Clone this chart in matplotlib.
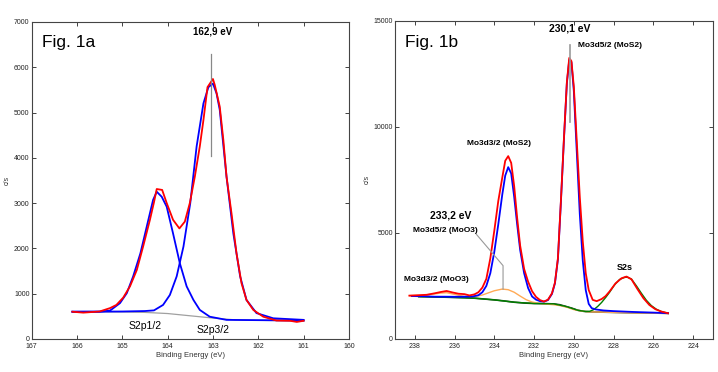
import matplotlib
matplotlib.use("Agg")
import matplotlib.pyplot as plt

plt.rcParams['font.family'] = ['Liberation Sans', 'DejaVu Sans']

# ---------------- Fig. 1a : S2p ----------------
s2p_env_E = [166.1, 165.86, 165.5, 165.27, 165.13, 164.98, 164.83, 164.68, 164.54, 164.39,
             164.3, 164.24, 164.12, 164.02, 163.88, 163.74, 163.62, 163.51, 163.4, 163.29,
             163.21, 163.12, 163.0, 162.96, 162.85, 162.77, 162.7, 162.59, 162.48, 162.37,
             162.26, 162.11, 161.89, 161.6, 161.3, 161.15, 161.0]
s2p_env_I = [600, 580, 605, 680, 750, 910, 1160, 1520, 2040, 2630,
             3020, 3310, 3290, 3000, 2630, 2440, 2590, 3000, 3580, 4250,
             4830, 5560, 5740, 5610, 5130, 4390, 3580, 2770, 1890, 1230,
             860, 640, 490, 405, 400, 375, 400]

s2p32_E = [166.1, 165.0, 164.5, 164.3, 164.1, 163.95, 163.8, 163.65, 163.5, 163.36,
           163.21, 163.1, 163.0, 162.92, 162.85, 162.7, 162.55, 162.4, 162.26, 162.04,
           161.67, 161.0]
s2p32_I = [600, 605, 615, 630, 750, 970, 1380, 2040, 3000, 4250,
           5200, 5560, 5640, 5420, 5060, 3580, 2330, 1380, 860, 570,
           455, 420]

s2p12_E = [166.1, 165.5, 165.27, 165.05, 164.9, 164.76, 164.6, 164.46, 164.32, 164.24,
           164.13, 164.02, 163.88, 163.73, 163.58, 163.43, 163.29, 163.07, 162.7, 161.0]
s2p12_I = [600, 600, 625, 790, 1010, 1380, 1890, 2480, 3070, 3250,
           3140, 2920, 2330, 1670, 1160, 860, 640, 490, 420, 405]

s2p_bg_E = [166.1, 165.0, 164.5, 164.0, 163.5, 163.0, 162.5, 162.0, 161.0]
s2p_bg_I = [600, 595, 585, 560, 510, 460, 420, 410, 400]

# ---------------- Fig. 1b : Mo3d ----------------
mo_env_E = [238.27, 237.8, 237.4, 237.0, 236.7, 236.4, 236.1, 235.8, 235.5, 235.25,
            235.0, 234.8, 234.6, 234.4, 234.2, 234.0, 233.8, 233.6, 233.45, 233.3,
            233.15, 233.0, 232.85, 232.7, 232.5, 232.3, 232.1, 231.9, 231.7, 231.5,
            231.3, 231.1, 230.95, 230.8, 230.65, 230.5, 230.35, 230.23, 230.12, 230.0,
            229.85, 229.7, 229.55, 229.4, 229.25, 229.05, 228.85, 228.6, 228.4, 228.2,
            227.9, 227.6, 227.35, 227.1, 226.8, 226.5, 226.2, 225.9, 225.6, 225.26]
mo_env_I = [2040, 2060, 2080, 2150, 2210, 2260, 2190, 2130, 2110, 2050,
            2100, 2200, 2420, 2830, 3800, 5100, 6500, 7600, 8400, 8620,
            8300, 7200, 5700, 4400, 3300, 2700, 2250, 1980, 1830, 1760,
            1850, 2150, 2650, 3800, 6500, 9400, 12100, 13250, 13100, 11900,
            9300, 6700, 4600, 3100, 2300, 1840, 1780, 1880, 2020, 2240,
            2620, 2860, 2940, 2810, 2350, 1920, 1600, 1400, 1290, 1210]

mos2_E = [238.15, 237.5, 237.0, 236.5, 236.0, 235.5, 235.1, 234.8, 234.6, 234.4,
          234.2, 234.0, 233.8, 233.6, 233.45, 233.3, 233.15, 233.0, 232.85, 232.7,
          232.5, 232.3, 232.1, 231.9, 231.7, 231.5, 231.3, 231.1, 230.95, 230.8,
          230.65, 230.5, 230.35, 230.23, 230.12, 230.0, 229.85, 229.7, 229.55, 229.4,
          229.25, 229.1, 228.9, 228.5, 228.0, 227.0, 226.0, 225.26]
mos2_I = [2020, 2010, 1990, 1990, 1985, 1990, 2000, 2060, 2200, 2500,
          3100, 4100, 5400, 6800, 7700, 8100, 7800, 6700, 5400, 4200,
          3100, 2400, 2000, 1850, 1780, 1760, 1830, 2120, 2620, 3750,
          6450, 9350, 12050, 13150, 13050, 11700, 8800, 5900, 3700, 2300,
          1650, 1450, 1390, 1340, 1310, 1270, 1240, 1210]

moo3_E = [238.27, 237.8, 237.4, 237.0, 236.7, 236.4, 236.1, 235.8, 235.5, 235.2,
          234.9, 234.6, 234.3, 234.0, 233.6, 233.3, 233.0, 232.7, 232.4, 232.1,
          231.8, 231.5, 231.0, 230.7, 230.3, 230.0, 229.6, 229.3, 228.0, 227.0,
          226.0, 225.26]
moo3_I = [2040, 2050, 2080, 2120, 2160, 2180, 2120, 2060, 2000, 1990,
          2010, 2070, 2170, 2270, 2350, 2320, 2200, 2020, 1850, 1740,
          1680, 1650, 1610, 1570, 1480, 1380, 1310, 1280, 1250, 1230,
          1215, 1200]

mo_bg_E = [237.8, 237.0, 236.0, 235.5, 235.0, 234.5, 234.0, 233.5, 233.0, 232.5,
           232.0, 231.5, 231.0, 230.7, 230.4, 230.1, 229.8, 229.5, 229.2, 228.5,
           227.5, 226.5, 225.26]
mo_bg_I = [1995, 1980, 1955, 1945, 1920, 1880, 1840, 1790, 1730, 1690,
           1670, 1665, 1650, 1610, 1530, 1450, 1350, 1300, 1280, 1260,
           1240, 1225, 1205]

s2s_E = [237.8, 237.0, 236.0, 235.0, 234.0, 233.0, 232.0, 231.0, 230.4, 229.8,
         229.4, 229.2, 229.0, 228.8, 228.6, 228.4, 228.2, 227.95, 227.7, 227.45,
         227.3, 227.1, 226.85, 226.6, 226.35, 226.1, 225.85, 225.6, 225.26]
s2s_I = [1995, 1980, 1955, 1920, 1840, 1730, 1670, 1650, 1530, 1350,
         1290, 1300, 1380, 1530, 1720, 1950, 2200, 2550, 2800, 2900,
         2910, 2820, 2500, 2150, 1820, 1570, 1400, 1290, 1210]

left_xticks = [167, 166, 165, 164, 163, 162, 161, 160]
left_yticks = [0, 1000, 2000, 3000, 4000, 5000, 6000, 7000]
right_xticks = [238, 236, 234, 232, 230, 228, 226, 224]
right_yticks = [0, 5000, 10000, 15000]

fig = plt.figure(figsize=(7.18, 3.72), dpi=100)
axL = fig.add_axes([0.044, 0.089, 0.442, 0.852])
axR = fig.add_axes([0.550, 0.089, 0.443, 0.855])

def style(ax):
    ax.tick_params(direction='in', length=3, width=0.6, top=True, right=True,
                   labelsize=5, colors='#222222')
    ax.tick_params(axis='x', pad=3)
    ax.tick_params(axis='y', pad=1.5)
    for s in ax.spines.values():
        s.set_linewidth(0.8)
        s.set_color('#444444')
    ax.set_xlabel('Binding Energy (eV)', fontsize=5.5, labelpad=1.5, color='#333333')
    ax.set_ylabel('c/s', fontsize=5, labelpad=2, color='#333333')

# ---- left
axL.plot(s2p_bg_E, s2p_bg_I, color='#a0a0a0', lw=0.9)
axL.plot(s2p12_E, s2p12_I, color='#0000ff', lw=1.3)
axL.plot(s2p32_E, s2p32_I, color='#0000ff', lw=1.3)
axL.plot(s2p_env_E, s2p_env_I, color='#ff0000', lw=1.3)
axL.set_xlim(167, 160)
axL.set_ylim(0, 7000)
axL.set_xticks(left_xticks)
axL.set_yticks(left_yticks)
style(axL)
axL.plot([163.04, 163.04], [4050, 6300], color='#888888', lw=0.9)
axL.text(166.78, 6540, 'Fig. 1a', fontsize=12.5, va='center', ha='left')
axL.text(163.0, 6780, '162,9 eV', fontsize=7, fontweight='bold', ha='center', va='center')
axL.text(164.5, 290, 'S2p1/2', fontsize=7.5, ha='center', va='center')
axL.text(163.0, 200, 'S2p3/2', fontsize=7.5, ha='center', va='center')

# ---- right
axR.plot(mo_bg_E, mo_bg_I, color='#1a3a1a', lw=1.2)
axR.plot(moo3_E, moo3_I, color='#ffaa55', lw=1.0)
axR.plot(s2s_E, s2s_I, color='#008000', lw=1.0)
axR.plot(mos2_E, mos2_I, color='#0000ff', lw=1.3)
axR.plot(mo_env_E, mo_env_I, color='#ff0000', lw=1.3)
axR.set_xlim(239, 223)
axR.set_ylim(0, 15000)
axR.set_xticks(right_xticks)
axR.set_yticks(right_yticks)
style(axR)
axR.plot([230.19, 230.19], [10240, 13850], color='#999999', lw=1.2)
axR.plot([234.9, 233.56, 233.56], [4930, 3455, 2340], color='#999999', lw=0.8)
axR.text(238.47, 14000, 'Fig. 1b', fontsize=12.5, va='center', ha='left')
axR.text(230.19, 14640, '230,1 eV', fontsize=7.5, fontweight='bold', ha='center', va='center')
axR.text(229.8, 13850, 'Mo3d5/2 (MoS2)', fontsize=6, fontweight='bold', ha='left', va='center')
axR.text(233.76, 9220, 'Mo3d3/2 (MoS2)', fontsize=6, fontweight='bold', ha='center', va='center')
axR.text(236.2, 5800, '233,2 eV', fontsize=7.5, fontweight='bold', ha='center', va='center')
axR.text(236.45, 5100, 'Mo3d5/2 (MoO3)', fontsize=6, fontweight='bold', ha='center', va='center')
axR.text(236.92, 2810, 'Mo3d3/2 (MoO3)', fontsize=6, fontweight='bold', ha='center', va='center')
axR.text(227.42, 3360, 'S2s', fontsize=6.5, fontweight='bold', ha='center', va='center')

fig.savefig('out.png', dpi=100)
